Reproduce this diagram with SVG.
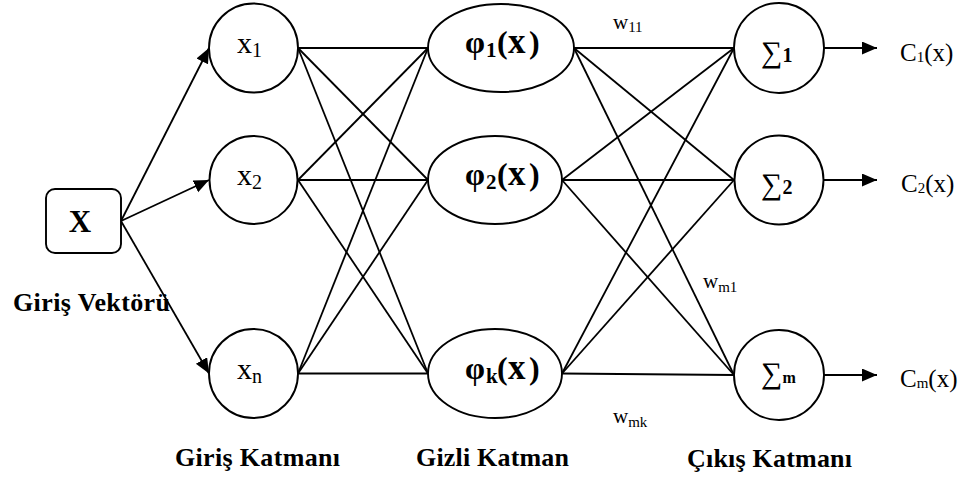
<svg xmlns="http://www.w3.org/2000/svg" width="971" height="479" viewBox="0 0 971 479">
<style>
.shape{fill:#fff;stroke:#000;stroke-width:1.9}
.ln{stroke:#000;stroke-width:1.8;fill:none}
.arr{marker-end:url(#ah)}
text{font-family:"Liberation Serif","Times New Roman",serif;fill:#000}
.b{font-weight:bold}
.lbl{font-size:30px}
.sub{font-size:20px}
.phi{font-size:32px;font-weight:bold}
.sig{font-size:30px}
.cap{font-size:26px;font-weight:bold}
.w{font-size:21px}
.ws{font-size:15px}
.out{font-size:25px}
</style>
<defs>
<marker id="ah" markerUnits="userSpaceOnUse" markerWidth="16" markerHeight="14" refX="15" refY="6.5" orient="auto">
<path d="M0,0 L15,6.5 L0,13 z" fill="#000"/>
</marker>
</defs>
<g id="connectors">
<line class="ln arr" x1="121" y1="221" x2="209" y2="48"/>
<line class="ln arr" x1="121" y1="221" x2="209" y2="180"/>
<line class="ln arr" x1="121" y1="221" x2="209" y2="373.5"/>
<line class="ln" x1="298" y1="48" x2="428" y2="48"/>
<line class="ln" x1="298" y1="48" x2="428" y2="180"/>
<line class="ln" x1="298" y1="48" x2="428" y2="373.5"/>
<line class="ln" x1="298" y1="180" x2="428" y2="48"/>
<line class="ln" x1="298" y1="180" x2="428" y2="180"/>
<line class="ln" x1="298" y1="180" x2="428" y2="373.5"/>
<line class="ln" x1="298" y1="373.5" x2="428" y2="48"/>
<line class="ln" x1="298" y1="373.5" x2="428" y2="180"/>
<line class="ln" x1="298" y1="373.5" x2="428" y2="373.5"/>
<line class="ln" x1="574" y1="48" x2="734" y2="48"/>
<line class="ln" x1="574" y1="48" x2="734" y2="180"/>
<line class="ln" x1="574" y1="48" x2="734" y2="375"/>
<line class="ln" x1="562" y1="180" x2="734" y2="48"/>
<line class="ln" x1="562" y1="180" x2="734" y2="180"/>
<line class="ln" x1="562" y1="180" x2="734" y2="375"/>
<line class="ln" x1="562" y1="373.5" x2="734" y2="48"/>
<line class="ln" x1="562" y1="373.5" x2="734" y2="180"/>
<line class="ln" x1="562" y1="373.5" x2="734" y2="375"/>
<line class="ln arr" x1="824" y1="48" x2="877" y2="48"/>
<line class="ln arr" x1="824" y1="180" x2="877" y2="180"/>
<line class="ln arr" x1="824" y1="375" x2="877" y2="375"/>
</g>
<g id="input-vector">
<rect class="shape" x="46" y="189" width="75" height="64" rx="9"/>
<text class="b" x="80" y="232" font-size="31" text-anchor="middle">X</text>
</g>
<g id="x1">
<circle class="shape" cx="253.5" cy="48" r="44.5"/>
<text class="lbl" x="237" y="53">x<tspan class="sub" dy="4">1</tspan></text>
</g>
<g id="x2">
<circle class="shape" cx="253.5" cy="180" r="44"/>
<text class="lbl" x="237" y="185">x<tspan class="sub" dy="4">2</tspan></text>
</g>
<g id="xn">
<circle class="shape" cx="253.5" cy="373.5" r="44.5"/>
<text class="lbl" x="237" y="379">x<tspan class="sub" dy="4">n</tspan></text>
</g>
<g id="phi1">
<ellipse class="shape" cx="501" cy="48" rx="73" ry="44"/>
<text class="phi" y="53"><tspan x="465">φ</tspan><tspan x="486" y="57" font-size="21">1</tspan><tspan x="497" y="53">(</tspan><tspan x="508" font-size="35">x</tspan><tspan x="529">)</tspan></text>
</g>
<g id="phi2">
<ellipse class="shape" cx="495" cy="180" rx="67" ry="44"/>
<text class="phi" y="185"><tspan x="465">φ</tspan><tspan x="486" y="189" font-size="21">2</tspan><tspan x="497" y="185">(</tspan><tspan x="508" font-size="35">x</tspan><tspan x="529">)</tspan></text>
</g>
<g id="phik">
<ellipse class="shape" cx="495" cy="373.5" rx="67" ry="44.5"/>
<text class="phi" y="378.5"><tspan x="465">φ</tspan><tspan x="486" y="382.5" font-size="21">k</tspan><tspan x="497" y="378.5">(</tspan><tspan x="508" font-size="35">x</tspan><tspan x="529">)</tspan></text>
</g>
<g id="sum1">
<circle class="shape" cx="779" cy="48" r="45"/>
<text class="sig" x="761" y="62">∑<tspan class="b" font-size="20">1</tspan></text>
</g>
<g id="sum2">
<circle class="shape" cx="779" cy="180" r="44.5"/>
<text class="sig" x="761" y="194">∑<tspan class="b" font-size="20">2</tspan></text>
</g>
<g id="summ">
<circle class="shape" cx="779" cy="375" r="45"/>
<text class="sig" x="761" y="383" font-size="28">∑<tspan class="b" font-size="16">m</tspan></text>
</g>
<g id="outputs">
<text class="out" x="900" y="61">C<tspan font-size="15" dy="1">1</tspan><tspan dy="-1">(x)</tspan></text>
<text class="out" x="901" y="192">C<tspan font-size="15" dy="1">2</tspan><tspan dy="-1">(x)</tspan></text>
<text class="out" x="900" y="387">C<tspan font-size="15" dy="1">m</tspan><tspan dy="-1">(x)</tspan></text>
</g>
<g id="weights">
<text class="w" x="613" y="29">w<tspan class="ws" dy="3">11</tspan></text>
<text class="w" x="703" y="288">w<tspan class="ws" dy="4">m1</tspan></text>
<text class="w" x="613" y="423">w<tspan class="ws" dy="4">mk</tspan></text>
</g>
<g id="captions">
<text class="cap" x="13" y="311" textLength="157">Giriş Vektörü</text>
<text class="cap" x="175" y="466" textLength="165">Giriş Katmanı</text>
<text class="cap" x="416" y="466" textLength="153">Gizli Katman</text>
<text class="cap" x="687" y="467" textLength="165">Çıkış Katmanı</text>
</g>
</svg>
